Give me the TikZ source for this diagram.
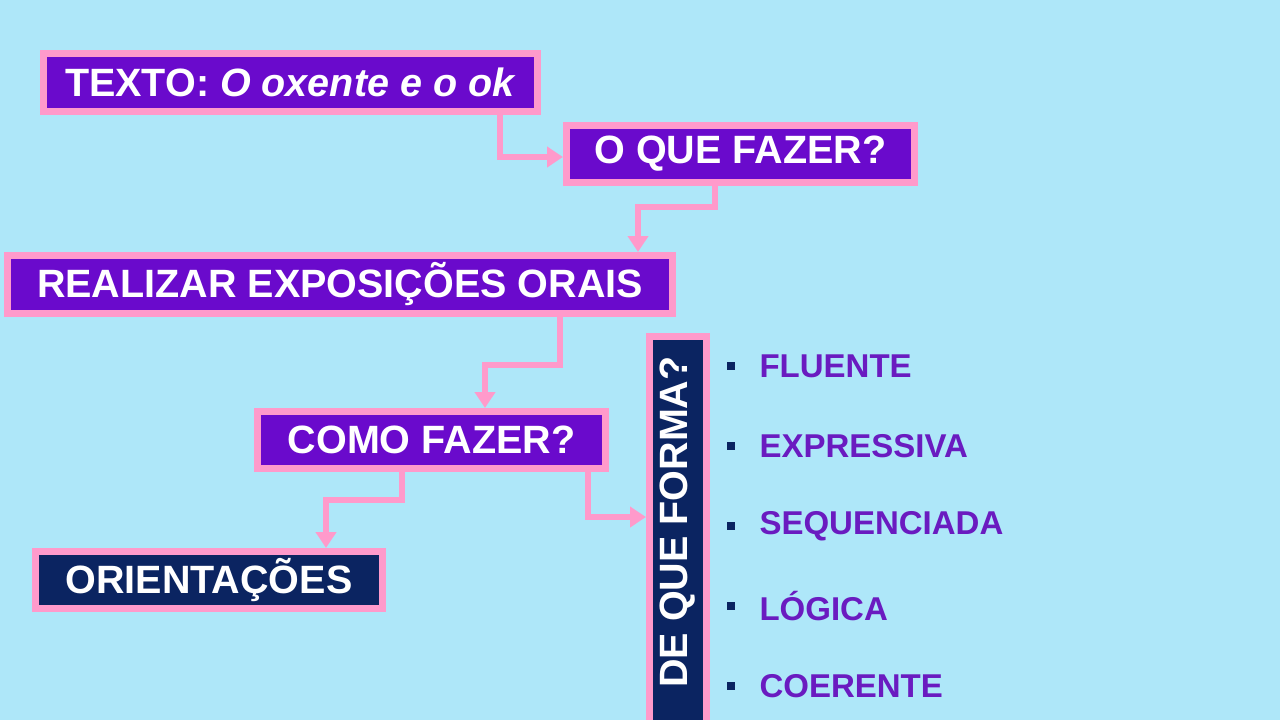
\documentclass[tikz,border=0pt]{standalone}
\usepackage{fontspec}
\setmainfont{Liberation Sans}
\usetikzlibrary{arrows.meta}
\definecolor{bg}{HTML}{AEE7F9}
\definecolor{pinkb}{HTML}{FF9ACB}
\definecolor{purp}{HTML}{6A0ACC}
\definecolor{navy}{HTML}{0B2461}
\definecolor{itemc}{HTML}{6A1BC0}
\begin{document}
\begin{tikzpicture}[x=1pt,y=-1pt,
  box/.style={draw=pinkb,line width=7pt,fill=purp,text=white,font=\bfseries\fontsize{39.5}{42}\selectfont,anchor=north west,inner sep=0pt,align=center},
  conn/.style={draw=pinkb,line width=6pt,-{Triangle[length=16pt,width=20pt]}},
  item/.style={text=itemc,font=\bfseries\fontsize{33}{36}\selectfont,anchor=west},
  bul/.style={fill=navy,minimum size=8pt,inner sep=0pt}]
\fill[bg] (0,0) rectangle (1280,720);
\useasboundingbox (0,0) rectangle (1280,720);
\node[box,minimum width=494pt,minimum height=58pt] (t) at (40,50) {TEXTO: \textit{O oxente e o ok}};
\node[box,minimum width=348pt,minimum height=57pt] (q) at (563,122) {O QUE FAZER?};
\node[box,minimum width=665pt,minimum height=58pt] (r) at (4,252) {REALIZAR EXPOSIÇÕES ORAIS};
\node[box,minimum width=348pt,minimum height=57pt] (c) at (254,408) {COMO FAZER?};
\node[box,fill=navy,minimum width=347pt,minimum height=57pt] (o) at (32,548) {ORIENTAÇÕES};
\node[box,fill=navy,minimum width=57pt,minimum height=400pt] (d) at (646,333) {};
\node[text=white,font=\bfseries\fontsize{39.5}{42}\selectfont,rotate=90] (dt) at (678,522) {DE QUE FORMA?};
\coordinate (a1) at (500,112);
\coordinate (a2) at (715,183);
\coordinate (a3) at (560,314);
\coordinate (a4) at (402,469);
\coordinate (a5) at (588,469);
\draw[conn] (a1) -- (500,157) -- (563,157);
\draw[conn] (a2) -- (715,207) -- (638,207) -- (638,252);
\draw[conn] (a3) -- (560,365) -- (485,365) -- (485,408);
\draw[conn] (a4) -- (402,500) -- (326,500) -- (326,548);
\draw[conn] (a5) -- (588,517) -- (646,517);
\foreach \n/\t/\y in {1/FLUENTE/366,2/EXPRESSIVA/446,3/SEQUENCIADA/526,4/LÓGICA/606,5/COERENTE/686}{
  \node[bul] (b\n) at (731,\y) {};
  \node[item] (i\n) at (756,\y) {\t};
}
\end{tikzpicture}
\end{document}
